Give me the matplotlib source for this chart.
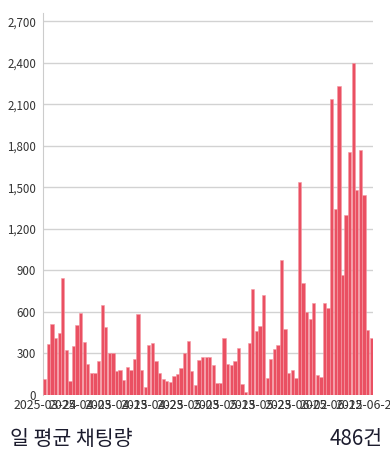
import pandas as pd
import matplotlib.pyplot as plt
from matplotlib.ticker import FuncFormatter

plt.rcParams['font.family'] = ['Noto Sans CJK KR', 'DejaVu Sans']

# daily chat counts
dates = pd.date_range('2025-03-24', periods=92, freq='D')
counts = [
    118, 372, 516, 410, 449, 847, 324, 101, 353, 509,
    595, 384, 223, 161, 161, 247, 653, 492, 300, 305,
    170, 178, 106, 204, 180, 262, 583, 180, 60, 358,
    379, 245, 158, 115, 98, 94, 134, 154, 197, 302,
    391, 170, 72, 254, 274, 278, 278, 214, 90, 86,
    413, 221, 216, 247, 338, 82, 19, 379, 763, 466,
    499, 725, 120, 262, 336, 360, 974, 475, 161, 178,
    125, 1538, 809, 600, 550, 662, 144, 132, 665, 631,
    2142, 1345, 2234, 870, 1298, 1754, 2400, 1478, 1771, 1446,
    468, 415,
]
tick_every = 10
title = '일 평균 채팅량'
avg_label = '486건'

fig = plt.figure(figsize=(3.9, 4.59), dpi=100)
ax = fig.add_axes([0.1103, 0.1394, 0.846, 0.8322])

x = range(len(counts))
ax.bar(x, counts, width=0.92, color='#ea5062', edgecolor='#f49aa4', linewidth=0.4, zorder=3)

ax.set_xlim(-0.5, len(counts) - 0.5)
ax.set_ylim(0, 2760)
ax.set_yticks(range(0, 2701, 300))
ax.yaxis.set_major_formatter(FuncFormatter(lambda v, p: f'{int(v):,}'))

tick_pos = list(range(0, len(counts), tick_every))
ax.set_xticks(tick_pos)
ax.set_xticklabels([dates[i].strftime('%Y-%m-%d') for i in tick_pos])

ax.grid(axis='y', color='#d2d2d2', linewidth=1, zorder=0)
ax.tick_params(axis='both', length=0, labelcolor='#333333')
ax.tick_params(axis='y', pad=5, labelsize=8.3)
ax.tick_params(axis='x', pad=3, labelsize=8.9)
for s in ['top', 'right', 'bottom']:
    ax.spines[s].set_visible(False)
ax.spines['left'].set_color('#cccccc')

fig.text(10 / 390, 1 - 439 / 459, title, fontsize=14.8, color='#1c1c2e', va='center', ha='left')
fig.text(383 / 390, 1 - 439 / 459, avg_label, fontsize=14.8, color='#1c1c2e', va='center', ha='right')

fig.savefig('out.png', dpi=100)
